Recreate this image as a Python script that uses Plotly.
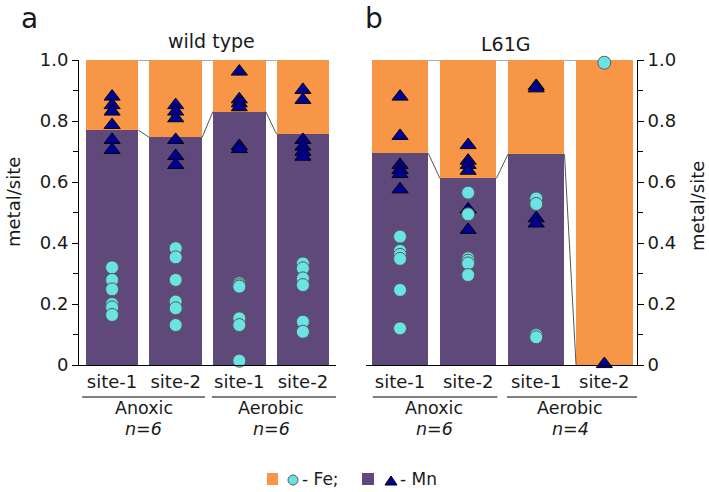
import plotly.graph_objects as go

# ---------------- data ----------------
sites = ["site-1", "site-2", "site-1", "site-2"]
conditions = ["Anoxic", "Aerobic"]
wt_n = ["n=6", "n=6"]
l61g_n = ["n=6", "n=4"]
panel_titles = ["wild type", "L61G"]
panel_letters = ["a", "b"]

# Mn fraction of each bar (purple part); Fe is the remainder (orange)
wt_mn_frac = [0.770, 0.746, 0.831, 0.757]
l61g_mn_frac = [0.694, 0.612, 0.691, 0.0]

# individual measurements (Fe circles, Mn triangles)
wt_fe_pts = [
    [0.320, 0.279, 0.248, 0.200, 0.189, 0.164],
    [0.383, 0.353, 0.279, 0.208, 0.186, 0.131],
    [0.268, 0.262, 0.257, 0.153, 0.131, 0.014],
    [0.333, 0.317, 0.284, 0.262, 0.142, 0.109],
]
wt_mn_pts = [
    [0.880, 0.852, 0.831, 0.787, 0.738, 0.705],
    [0.852, 0.831, 0.809, 0.738, 0.685, 0.656],
    [0.962, 0.871, 0.858, 0.845, 0.718, 0.708],
    [0.902, 0.869, 0.738, 0.716, 0.699, 0.683],
]
l61g_fe_pts = [
    [0.421, 0.374, 0.361, 0.348, 0.246, 0.120],
    [0.565, 0.494, 0.350, 0.342, 0.333, 0.295],
    [0.546, 0.528, 0.098, 0.091],
    [0.991],
]
l61g_mn_pts = [
    [0.880, 0.751, 0.656, 0.639, 0.626, 0.576],
    [0.721, 0.670, 0.656, 0.637, 0.510, 0.443],
    [0.915, 0.907, 0.481, 0.464],
    [0.003],
]

ytick_vals = [0, 0.2, 0.4, 0.6, 0.8, 1.0]
ytick_text = ["0", "0.2", "0.4", "0.6", "0.8", "1.0"]

# ---------------- style ----------------
ORANGE = "#F79646"
PURPLE = "#5F497A"
CYAN = "#6BE2E4"
NAVY = "#000099"
TXT = "#1a1a1a"
FONT = "DejaVu Sans"
BW = 0.83
W, H = 709, 492


def px(x):
    return x / W


def py(y):
    return 1 - y / H


fig = go.Figure()

panels = [
    dict(xa="x", ya="y", mn=wt_mn_frac, fe=wt_fe_pts, mnp=wt_mn_pts, n=wt_n),
    dict(xa="x2", ya="y2", mn=l61g_mn_frac, fe=l61g_fe_pts, mnp=l61g_mn_pts, n=l61g_n),
]

idx = list(range(len(sites)))
for p in panels:
    fig.add_trace(go.Bar(x=idx, y=p["mn"], width=BW, marker=dict(color=PURPLE, line=dict(width=0)),
                         xaxis=p["xa"], yaxis=p["ya"], showlegend=False, hoverinfo="skip"))
    fig.add_trace(go.Bar(x=idx, y=[1 - v for v in p["mn"]], base=p["mn"], width=BW,
                         marker=dict(color=ORANGE, line=dict(width=0)),
                         xaxis=p["xa"], yaxis=p["ya"], showlegend=False, hoverinfo="skip"))
    # series connector lines between neighbouring bars
    cx, cy = [], []
    for i in range(len(idx) - 1):
        for a, b in ((p["mn"][i], p["mn"][i + 1]), (1.0, 1.0)):
            cx += [i + BW / 2, i + 1 - BW / 2, None]
            cy += [a, b, None]
    fig.add_trace(go.Scatter(x=cx, y=cy, mode="lines", line=dict(color="#555555", width=1),
                             xaxis=p["xa"], yaxis=p["ya"], showlegend=False, hoverinfo="skip"))
    tx, ty, fx, fy = [], [], [], []
    for i in idx:
        tx += [i] * len(p["mnp"][i])
        ty += p["mnp"][i]
        fx += [i] * len(p["fe"][i])
        fy += p["fe"][i]
    fig.add_trace(go.Scatter(x=tx, y=ty, mode="markers", cliponaxis=False,
                             marker=dict(symbol="triangle-up", size=14, color=NAVY,
                                         line=dict(color="#000000", width=1)),
                             xaxis=p["xa"], yaxis=p["ya"], showlegend=False))
    fig.add_trace(go.Scatter(x=fx, y=fy, mode="markers", cliponaxis=False,
                             marker=dict(symbol="circle", size=13, color=CYAN,
                                         line=dict(color="#5a5a5a", width=1)),
                             xaxis=p["xa"], yaxis=p["ya"], showlegend=False))

ydom = [py(365), py(60)]
tickfont = dict(family=FONT, size=18, color=TXT)
common_x = dict(tickmode="array", tickvals=idx, ticktext=sites, tickfont=tickfont,
                showline=True, linecolor="#000000", linewidth=1.2, ticks="",
                showgrid=False, zeroline=False, fixedrange=True, automargin=False)
common_y = dict(range=[0, 1.0], tickmode="array", tickvals=ytick_vals, ticktext=ytick_text,
                tickfont=tickfont, showline=True, linecolor="#000000", linewidth=1,
                ticks="outside", ticklen=6, tickcolor="#000000",
                minor=dict(dtick=0.1, ticks="outside", ticklen=5, tickcolor="#000000"),
                showgrid=False, zeroline=False, fixedrange=True, automargin=False)

fig.update_layout(
    width=W, height=H,
    margin=dict(l=0, r=0, t=0, b=0, autoexpand=False),
    paper_bgcolor="white", plot_bgcolor="white",
    barmode="overlay", bargap=0,
    font=dict(family=FONT, color=TXT),
    xaxis=dict(domain=[px(79), px(336)], range=[-0.52, 3.52], anchor="y", **common_x),
    yaxis=dict(domain=ydom, anchor="x", side="left", **common_y),
    xaxis2=dict(domain=[px(366), px(637)], range=[-0.5, 3.48], anchor="y2", **common_x),
    yaxis2=dict(domain=ydom, anchor="x2", side="right", **common_y),
)

shapes = []
annotations = []


def note(x, y, text, size, **kw):
    d = dict(xref="paper", yref="paper", x=px(x), y=py(y), text=text, showarrow=False,
             xanchor="center", yanchor="middle", font=dict(family=FONT, size=size, color=TXT))
    d.update(kw)
    annotations.append(d)


group_spans = {"x": [(-0.47, 1.46), (1.57, 3.52)], "x2": [(-0.4, 1.43), (1.57, 3.51)]}
for p in panels:
    for g, (a, b) in enumerate(group_spans[p["xa"]]):
        shapes.append(dict(type="line", xref=p["xa"], yref="paper", x0=a, x1=b,
                           y0=py(397), y1=py(397), line=dict(color="#000000", width=1.2)))
        annotations.append(dict(xref=p["xa"], yref="paper", x=2 * g + 0.5, y=py(408),
                                text=conditions[g], showarrow=False, xanchor="center",
                                font=dict(family=FONT, size=17.5, color=TXT), yanchor="middle"))
        annotations.append(dict(xref=p["xa"], yref="paper", x=2 * g + 0.5, y=py(429),
                                text="<i>" + p["n"][g] + "</i>", showarrow=False, xanchor="center",
                                font=dict(family=FONT, size=17.5, color=TXT), yanchor="middle"))

# panel titles and letters
note(212, 41, panel_titles[0], 19)
note(506, 44, panel_titles[1], 19)
note(30, 0, panel_letters[0], 28, yanchor="top")
note(374, 0, panel_letters[1], 28, yanchor="top")
# axis titles
note(13, 202, "metal/site", 18, textangle=-90)
note(697, 206, "metal/site", 18, textangle=-90)

# legend (drawn manually)
shapes.append(dict(type="rect", xref="paper", yref="paper", x0=px(267), x1=px(278), y0=py(485), y1=py(473),
                   fillcolor=ORANGE, line=dict(width=0)))
shapes.append(dict(type="circle", xref="paper", yref="paper", x0=px(288), x1=px(298), y0=py(485), y1=py(475),
                   fillcolor=CYAN, line=dict(color="#5a5a5a", width=1)))
note(300, 479, "- Fe;", 17, xanchor="left")
shapes.append(dict(type="rect", xref="paper", yref="paper", x0=px(362), x1=px(374), y0=py(485), y1=py(473),
                   fillcolor=PURPLE, line=dict(width=0)))
shapes.append(dict(type="path", xref="paper", yref="paper",
                   path=f"M {px(385)} {py(485)} L {px(397)} {py(485)} L {px(391)} {py(476)} Z",
                   fillcolor=NAVY, line=dict(color="#000000", width=1)))
note(398, 479, "- Mn", 17, xanchor="left")

fig.update_layout(shapes=shapes, annotations=annotations)
fig.write_html("out.html", config={"displayModeBar": False},
               post_script="document.body.style.margin='0px';")
